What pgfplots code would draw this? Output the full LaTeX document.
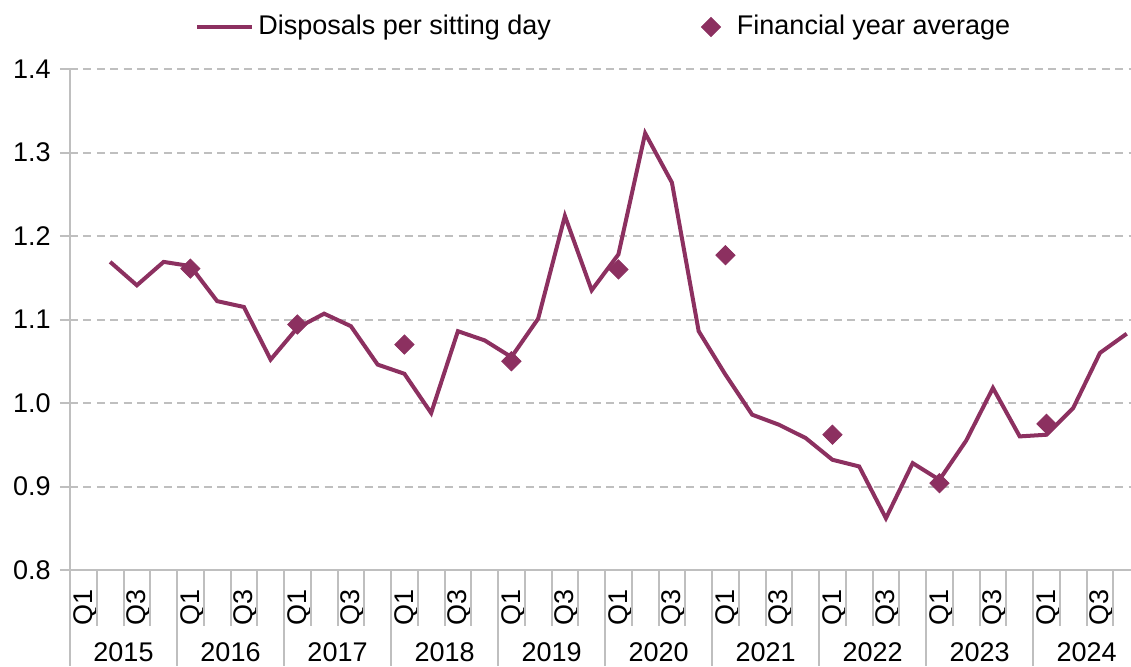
\documentclass[border=0pt]{standalone}
\usepackage{fontspec}
\setmainfont{Liberation Sans}
\usepackage{pgfplots}
\pgfplotsset{compat=1.18}
\definecolor{plum}{RGB}{140,48,96}
\definecolor{gridgray}{RGB}{191,191,191}
\pgfplotsset{
  longline legend/.style={legend image code/.code={\draw[##1] (0pt,0pt) -- (27.5pt,0pt);}},
  diamond legend/.style={legend image code/.code={%
      \path[draw=none, fill=none] (0pt,-3pt) rectangle (19pt,3pt);
      \draw[##1,mark repeat=2,mark phase=2] plot coordinates {(0pt,0pt) (8pt,0pt) (16pt,0pt)};}},
}

\pgfplotstableread{
q v
1 1.169
2 1.141
3 1.169
4 1.164
5 1.122
6 1.115
7 1.052
8 1.090
9 1.107
10 1.092
11 1.046
12 1.035
13 0.988
14 1.086
15 1.075
16 1.055
17 1.101
18 1.224
19 1.135
20 1.178
21 1.323
22 1.264
23 1.086
24 1.034
25 0.986
26 0.974
27 0.958
28 0.932
29 0.924
30 0.862
31 0.928
32 0.908
33 0.955
34 1.018
35 0.960
36 0.962
37 0.994
38 1.060
39 1.083
}\disposals

\pgfplotstableread{
q v
4 1.161
8 1.094
12 1.070
16 1.050
20 1.160
24 1.177
28 0.962
32 0.904
36 0.975
}\fyavg

\begin{document}
\fontsize{13.5}{16}\selectfont
\begin{tikzpicture}
\useasboundingbox (-35pt,-48pt) rectangle (530.5pt,285pt);
\begin{axis}[
    scale only axis, width=530.5pt, height=250.5pt,
    xmin=-0.5, xmax=39.16, ymin=0.8, ymax=1.4,
    axis x line*=bottom, axis y line*=left,
    axis line style={gridgray, line width=1pt, -},
    clip=false,
    ytick={0.8,0.9,1.0,1.1,1.2,1.3,1.4},
    yticklabel style={/pgf/number format/.cd, fixed, fixed zerofill, precision=1, assume math mode=true},
    ymajorgrids, grid style={gridgray, line width=1pt, dash pattern=on 4pt off 2.7pt},
    tick align=outside, major tick length=5pt,
    ytick style={gridgray, line width=1pt},
    xtick={0,2,...,38},
    xticklabels={Q1,Q3,Q1,Q3,Q1,Q3,Q1,Q3,Q1,Q3,Q1,Q3,Q1,Q3,Q1,Q3,Q1,Q3,Q1,Q3},
    xtick style={draw=none},
    xticklabel style={rotate=90, anchor=east, yshift=-1pt},
    legend style={draw=none, fill=none, at={(0.504,1.0838)}, anchor=center,
        legend columns=2, /tikz/every even column/.append style={column sep=70pt}},
]
\pgfplotsinvokeforeach{0,...,9}{
    \draw[gridgray, line width=1pt] (axis cs:{4*#1-0.5},0.8) -- ++(0pt,-48pt);
    \draw[gridgray, line width=1pt] (axis cs:{4*#1+0.5},0.8) -- ++(0pt,-28pt);
    \draw[gridgray, line width=1pt] (axis cs:{4*#1+1.5},0.8) -- ++(0pt,-28pt);
    \draw[gridgray, line width=1pt] (axis cs:{4*#1+2.5},0.8) -- ++(0pt,-28pt);
    \node at (axis cs:{4*#1+1.5},0.8) [yshift=-41pt] {\number\numexpr2015+#1\relax};
}
\addplot[plum, line width=2pt, longline legend]
    table[x=q, y=v] {\disposals};
\addlegendentry{Disposals per sitting day}
\addplot[only marks, color=plum, mark=square*, mark size=3.4pt,
    mark options={rotate=45, fill=plum, draw=plum}, diamond legend]
    table[x=q, y=v] {\fyavg};
\addlegendentry{Financial year average}
\end{axis}
\end{tikzpicture}
\end{document}
